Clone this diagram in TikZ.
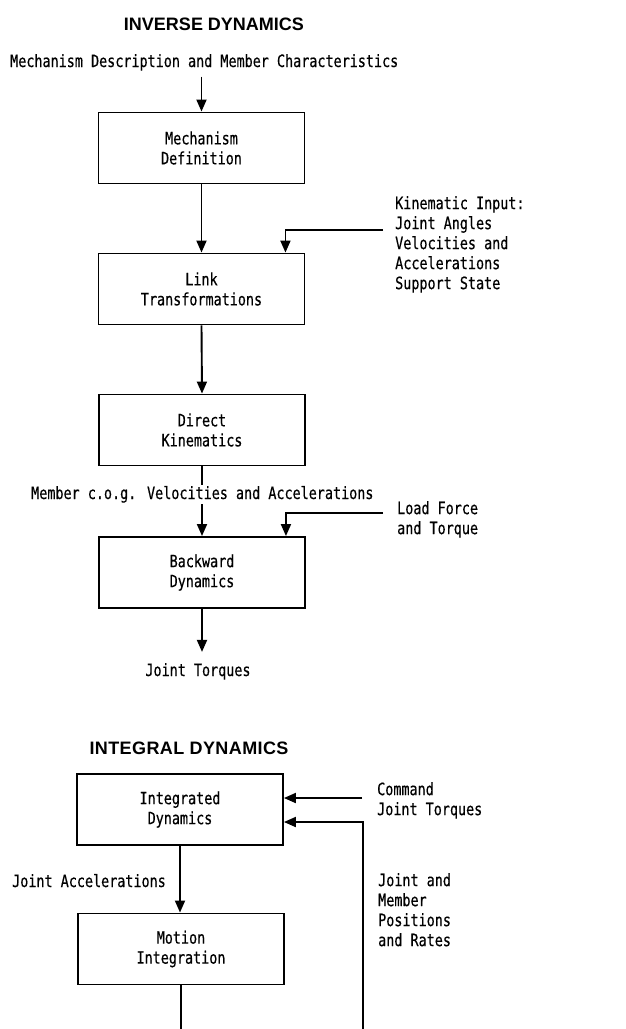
\documentclass[tikz,border=0pt]{standalone}
\usepackage{fontspec}
\newfontfamily\tw[FakeStretch=0.79,FakeBold=0.4]{DejaVu Sans Mono}
\newfontfamily\hd{Liberation Sans}
\usetikzlibrary{arrows.meta}
\begin{document}
\begin{tikzpicture}[x=1pt,y=-1pt,
  box/.style={draw,line width=1.9pt,minimum width=206pt,minimum height=71pt,inner sep=0pt,align=center,font=\tw\fontsize{17}{20}\selectfont},
  lbl/.style={inner sep=0pt,font=\tw\fontsize{17}{20}\selectfont,align=left},
  ttl/.style={inner sep=0pt,font=\hd\bfseries\fontsize{18}{22}\selectfont},
  conn/.style={line width=1.9pt,-{Triangle[length=12pt,width=10pt]}}]
\useasboundingbox (0,0) rectangle (626,1029);
\clip (0,0) rectangle (626,1029);

\node[ttl,anchor=base] (t1) at (214,30) {INVERSE DYNAMICS};
\node[lbl,anchor=base west] (in) at (10,67) {Mechanism Description and Member Characteristics};
\node[box] (b1) at (201.5,148) {Mechanism\\Definition};
\node[box] (b2) at (201.5,289) {Link\\Transformations};
\node[box] (b3) at (202,430) {Direct\\Kinematics};
\node[box] (b4) at (202,572.5) {Backward\\Dynamics};
\node[lbl,anchor=north west] (kin) at (395,196) {Kinematic Input:\\Joint Angles\\Velocities and\\Accelerations\\Support State};
\coordinate (kc) at (383,230);
\node[lbl,anchor=north west] (load) at (397,501) {Load Force\\and Torque};
\coordinate (lc) at (383,513);
\node[lbl,anchor=base] (jt) at (198,676) {Joint Torques};

\node[ttl,anchor=base,font=\hd\bfseries\fontsize{18}{22}\selectfont\addfontfeature{LetterSpace=2.2}] (t2) at (189,754) {INTEGRAL DYNAMICS};
\node[box] (b5) at (180,809.5) {Integrated\\Dynamics};
\node[box] (b6) at (181,949) {Motion\\Integration};
\node[lbl,anchor=north west] (cmd) at (377,782) {Command\\Joint Torques};
\coordinate (cc) at (362,798);
\node[lbl,anchor=base west] (ja) at (12,887) {Joint Accelerations};
\node[lbl,anchor=north west] (fb) at (378,873) {Joint and\\Member\\Positions\\and Rates};
\coordinate (fc) at (363,1040);

\draw[conn,shorten <=6pt] (in.south -| b1.north) -- (b1.north);
\draw[conn] (b1.south) -- (b2.north);
\draw[conn] (kc) -| ([xshift=-20pt]b2.north east);
\draw[conn] (b2.south) -- (b3.north);
\draw[conn] (b3.south) -- (b4.north);
\node[lbl,anchor=base west,fill=white,inner ysep=1pt] (mcog) at (31,499) {Member c.o.g. Velocities and Accelerations};
\draw[conn] (lc) -| ([xshift=-20pt]b4.north east);
\draw[conn,shorten >=11pt] (b4.south) -- (b4.south |- jt.north);

\draw[conn] (cc) -- (cc -| b5.east);
\draw[conn] (b5.south) -- (b5.south |- b6.north);
\draw[conn] (b6.south) |- (fc) |- ([yshift=-12.5pt]b5.east);
\end{tikzpicture}
\end{document}
